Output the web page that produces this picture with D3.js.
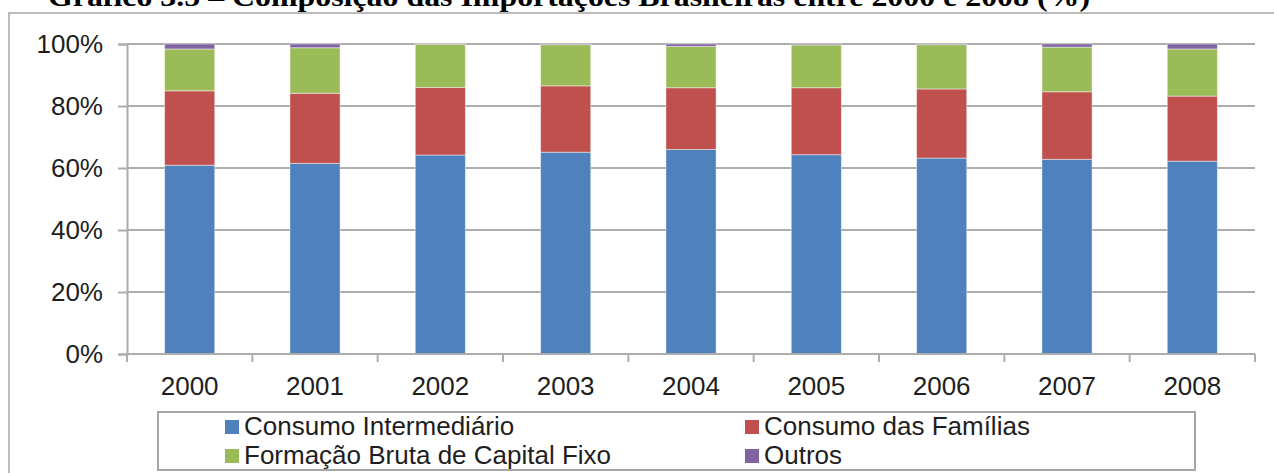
<!DOCTYPE html>
<html>
<head>
<meta charset="utf-8">
<script src="https://cdn.jsdelivr.net/npm/d3@7"></script>
<style>
  html, body { margin: 0; padding: 0; background: #fff; }
  svg { display: block; }
  text { font-family: "Liberation Sans", Arial, sans-serif; }
</style>
</head>
<body>
<svg id="chart" width="1274" height="473"></svg>
<script>
const title = "Gráfico 3.5 – Composição das Importações Brasileiras entre 2000 e 2008 (%)";
const years = ["2000","2001","2002","2003","2004","2005","2006","2007","2008"];
const seriesNames = ["Consumo Intermediário","Consumo das Famílias","Formação Bruta de Capital Fixo","Outros"];
const consumoIntermediario = [60.9, 61.5, 64.2, 65.1, 66.0, 64.3, 63.2, 62.8, 62.2];
const consumoFamilias      = [24.0, 22.6, 21.8, 21.4, 19.9, 21.6, 22.3, 21.8, 21.0];
const formacaoBruta        = [13.5, 14.7, 13.9, 13.3, 13.3, 13.8, 14.3, 14.4, 15.2];
const outros               = [ 1.6,  1.2,  0.1,  0.2,  0.8,  0.3,  0.2,  1.0,  1.6];
const yTicks = [0, 0.2, 0.4, 0.6, 0.8, 1.0];
const colors = ["#4F81BD", "#C0504D", "#9BBB59", "#8064A2"];

const seriesValues = [consumoIntermediario, consumoFamilias, formacaoBruta, outros];
const keys = seriesNames;
const table = years.map((yr, i) => {
  const row = { year: yr };
  const total = d3.sum(seriesValues, s => s[i]);
  keys.forEach((k, j) => row[k] = seriesValues[j][i] / total);
  return row;
});
const stacked = d3.stack().keys(keys)(table);

const svg = d3.select("#chart");
const plot = { left: 127, right: 1255, top: 44, bottom: 354 };

// outer frame
svg.append("rect")
  .attr("x", 9).attr("y", 13).attr("width", 1300).attr("height", 500)
  .attr("fill", "none").attr("stroke", "#a6a6a6").attr("stroke-width", 1.5);

// title (partly cut by the top edge)
svg.append("text")
  .attr("x", 48).attr("y", 6)
  .attr("textLength", 1042).attr("lengthAdjust", "spacingAndGlyphs")
  .style("font-family", "'Liberation Serif', 'Times New Roman', serif")
  .style("font-weight", "bold").style("font-size", "27px").attr("fill", "#000")
  .text(title);

const x = d3.scaleBand().domain(years).range([plot.left, plot.right]).padding(0);
const y = d3.scaleLinear().domain([0, 1]).range([plot.bottom, plot.top]);
const barW = x.bandwidth() * 0.4;

// gridlines
svg.append("g").selectAll("line").data(yTicks).join("line")
  .attr("x1", plot.left).attr("x2", plot.right)
  .attr("y1", d => y(d)).attr("y2", d => y(d))
  .attr("stroke", "#adadad").attr("stroke-width", 2);

// y axis
const yAxis = svg.append("g").attr("transform", `translate(${plot.left},0)`)
  .call(d3.axisLeft(y).tickValues(yTicks).tickFormat(d3.format(".0%")).tickSize(9).tickPadding(15));
yAxis.select(".domain").attr("stroke", "#adadad").attr("stroke-width", 2);
yAxis.selectAll(".tick line").attr("stroke", "#adadad").attr("stroke-width", 2);
yAxis.selectAll("text").style("font-size", "26px").attr("fill", "#1e1e1e")
  .style("font-family", "'Liberation Sans', Arial, sans-serif");

// bars
svg.append("g").selectAll("g").data(stacked).join("g")
  .attr("fill", (d, i) => colors[i])
  .selectAll("rect").data(d => d).join("rect")
  .attr("x", d => x(d.data.year) + (x.bandwidth() - barW) / 2)
  .attr("width", barW)
  .attr("y", d => y(d[1]))
  .attr("height", d => y(d[0]) - y(d[1]))
  .attr("stroke", "rgba(255,255,255,0.45)").attr("stroke-width", 1);

// x axis
const xAxis = svg.append("g").attr("transform", `translate(0,${plot.bottom})`)
  .call(d3.axisBottom(x).tickSize(0).tickPadding(23));
xAxis.select(".domain").remove();
xAxis.selectAll("text").style("font-size", "26px").attr("fill", "#1e1e1e")
  .style("font-family", "'Liberation Sans', Arial, sans-serif");
svg.append("line")
  .attr("x1", plot.left).attr("x2", plot.right)
  .attr("y1", plot.bottom).attr("y2", plot.bottom)
  .attr("stroke", "#adadad").attr("stroke-width", 2);
const bounds = years.map(yr => x(yr)).concat([x(years[years.length - 1]) + x.step()]);
svg.append("g").selectAll("line").data(bounds).join("line")
  .attr("x1", d => d).attr("x2", d => d)
  .attr("y1", plot.bottom).attr("y2", plot.bottom + 8)
  .attr("stroke", "#adadad").attr("stroke-width", 2);

// legend
const lg = svg.append("g");
lg.append("rect").attr("x", 158).attr("y", 412).attr("width", 1037).attr("height", 58)
  .attr("fill", "#fff").attr("stroke", "#a6a6a6").attr("stroke-width", 2);
const legendPos = [
  { sx: 225, ty: 435 }, { sx: 745, ty: 435 },
  { sx: 225, ty: 464 }, { sx: 745, ty: 464 }
];
const items = lg.selectAll("g.item").data(seriesNames).join("g").attr("class", "item")
  .attr("transform", (d, i) => `translate(${legendPos[i].sx},${legendPos[i].ty})`);
items.append("rect").attr("x", 0).attr("y", -15).attr("width", 14).attr("height", 14)
  .attr("fill", (d, i) => colors[i]);
items.append("text").attr("x", 19).attr("y", 0)
  .style("font-size", "26px").attr("fill", "#1e1e1e").text(d => d);
</script>
</body>
</html>
